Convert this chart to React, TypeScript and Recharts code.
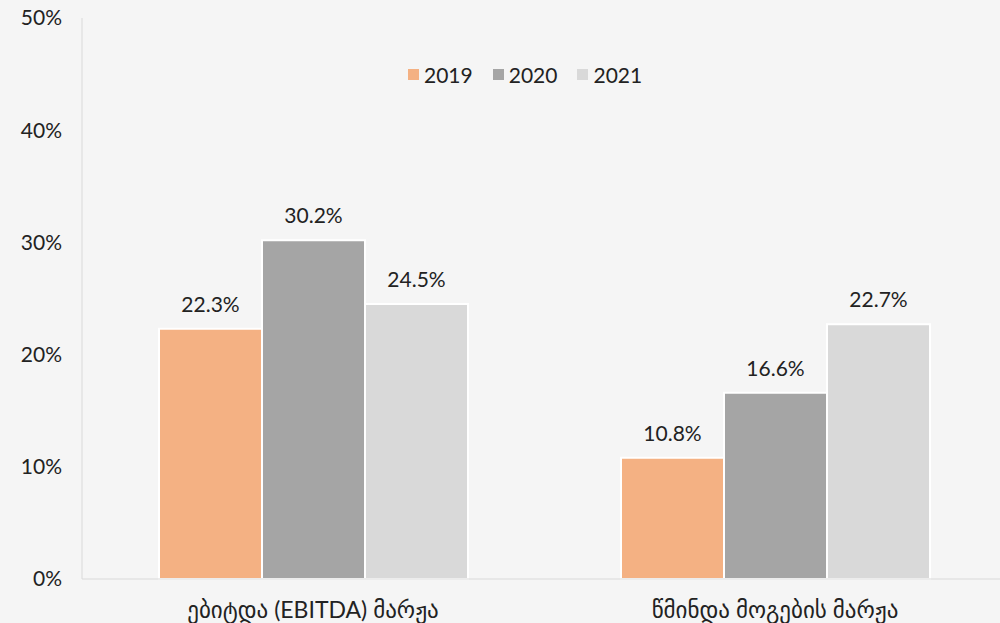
import React from 'react';
import { BarChart, Bar, XAxis, YAxis, LabelList } from 'recharts';

const categories = ['ებიტდა (EBITDA) მარჟა', 'წმინდა მოგების მარჟა'];
const years = ['2019', '2020', '2021'];
const values2019 = [22.3, 10.8];
const values2020 = [30.2, 16.6];
const values2021 = [24.5, 22.7];
const yTicks = [0, 10, 20, 30, 40, 50];
const colors = ['#f4b183', '#a5a5a5', '#d9d9d9'];

const data = categories.map((name, i) => ({
  name,
  y2019: values2019[i],
  y2020: values2020[i],
  y2021: values2021[i],
}));

const FONT = "Lato, 'DejaVu Sans', sans-serif";

const LegendBox = () => (
  <div
    style={{
      position: 'absolute', left: 408, top: 62, display: 'flex', alignItems: 'center',
      fontFamily: FONT, fontSize: 21, color: '#222',
    }}
  >
    {years.map((y, i) => (
      <div key={y} style={{ display: 'flex', alignItems: 'center', marginRight: 20 }}>
        <span style={{ width: 11, height: 11, background: colors[i], display: 'inline-block', marginRight: 5 }} />
        <span>{y}</span>
      </div>
    ))}
  </div>
);

const App: React.FC = () => (
  <div style={{ position: 'absolute', left: 0, top: 0, width: 1000, height: 623, background: '#f5f5f5', overflow: 'hidden' }}>
    <BarChart
      width={1000}
      height={623}
      data={data}
      margin={{ top: 18, right: -6, left: 0, bottom: 0 }}
      barGap={0}
      barSize={103}
    >
      <XAxis
        dataKey="name"
        height={44}
        tickLine={false}
        tickMargin={17}
        axisLine={{ stroke: '#d9d9d9' }}
        tick={{ fill: '#222', fontSize: 23, fontFamily: FONT }}
      />
      <YAxis
        width={82}
        domain={[0, 50]}
        ticks={yTicks}
        tickFormatter={(v: number) => `${v}%`}
        tickLine={false}
        tickSize={0}
        tickMargin={20}
        axisLine={{ stroke: '#d9d9d9' }}
        tick={{ fill: '#222', fontSize: 21, fontFamily: FONT }}
      />
      {['y2019', 'y2020', 'y2021'].map((k, i) => (
        <Bar key={k} dataKey={k} name={years[i]} fill={colors[i]} stroke="#ffffff" strokeWidth={2} isAnimationActive={false}>
          <LabelList
            dataKey={k}
            position="top"
            offset={17}
            formatter={(v: number) => `${v.toFixed(1)}%`}
            style={{ fill: '#222', fontSize: 21, fontFamily: FONT }}
          />
        </Bar>
      ))}
    </BarChart>
    <LegendBox />
  </div>
);

export default App;
